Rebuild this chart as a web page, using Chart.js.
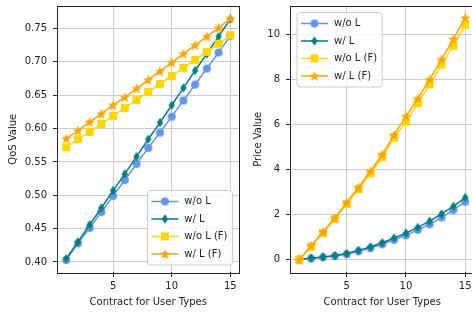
<!DOCTYPE html>
<html>
<head>
<meta charset="utf-8">
<script src="https://cdn.jsdelivr.net/npm/chart.js@4.4.1/dist/chart.umd.min.js"></script>
<style>
  html, body { margin: 0; padding: 0; background: #fff; overflow: hidden; }
  body { width: 472px; height: 316px; position: relative; }
  canvas { position: absolute; top: 0; }
  #qosChart { left: 0; }
  #priceChart { left: 245px; }
</style>
</head>
<body>
<canvas id="qosChart" width="245" height="316"></canvas>
<canvas id="priceChart" width="235" height="316"></canvas>
<script>
// data
const userTypes = [1, 2, 3, 4, 5, 6, 7, 8, 9, 10, 11, 12, 13, 14, 15];
const seriesNames = ['w/o L', 'w/ L', 'w/o L (F)', 'w/ L (F)'];

const qosWoL  = [0.403, 0.428, 0.451, 0.475, 0.499, 0.523, 0.547, 0.571, 0.594, 0.618, 0.642, 0.666, 0.690, 0.714, 0.739];
const qosWL   = [0.405, 0.430, 0.456, 0.481, 0.507, 0.532, 0.558, 0.584, 0.609, 0.635, 0.661, 0.687, 0.712, 0.738, 0.764];
const qosWoLF = [0.572, 0.584, 0.595, 0.607, 0.619, 0.631, 0.643, 0.655, 0.667, 0.679, 0.691, 0.703, 0.715, 0.727, 0.740];
const qosWLF  = [0.585, 0.597, 0.610, 0.622, 0.635, 0.647, 0.660, 0.673, 0.686, 0.699, 0.712, 0.725, 0.738, 0.751, 0.765];

const priceWoL  = [0, 0.05, 0.10, 0.16, 0.24, 0.37, 0.51, 0.68, 0.88, 1.08, 1.32, 1.57, 1.87, 2.21, 2.57];
const priceWL   = [0, 0.07, 0.12, 0.18, 0.27, 0.41, 0.56, 0.75, 0.96, 1.18, 1.43, 1.71, 2.03, 2.37, 2.76];
const priceWoLF = [0, 0.58, 1.18, 1.80, 2.47, 3.13, 3.83, 4.55, 5.42, 6.13, 6.95, 7.79, 8.67, 9.50, 10.44];
const priceWLF  = [0, 0.62, 1.23, 1.86, 2.54, 3.21, 3.93, 4.67, 5.54, 6.37, 7.16, 8.01, 8.90, 9.80, 10.75];

const xTicks = [5, 10, 15];
const qosTicks = [0.40, 0.45, 0.50, 0.55, 0.60, 0.65, 0.70, 0.75];
const priceTicks = [0, 2, 4, 6, 8, 10];

const colors = ['#6495ED', '#008080', '#FFD700', '#FFA500'];
const shapes = ['circle', 'diamond', 'square', 'star'];

Chart.defaults.font.family = '"DejaVu Sans", sans-serif';
Chart.defaults.font.size = 10;
Chart.defaults.color = '#222';

// matplotlib-like filled markers drawn once onto small canvases
function makeMarker(shape, color) {
    const c = document.createElement('canvas');
    c.width = 12; c.height = 12;
    const g = c.getContext('2d');
    g.fillStyle = color;
    g.beginPath();
    if (shape === 'circle') {
        g.arc(6, 6, 4, 0, Math.PI * 2);
    } else if (shape === 'diamond') {
        g.moveTo(6, 1.2); g.lineTo(9.2, 6); g.lineTo(6, 10.8); g.lineTo(2.8, 6);
    } else if (shape === 'square') {
        g.rect(2, 2, 8, 8);
    } else {
        for (let i = 0; i < 10; i++) {
            const r = i % 2 ? 2.3 : 5.6;
            const a = -Math.PI / 2 + i * Math.PI / 5;
            const px = 6 + r * Math.cos(a), py = 6.4 + r * Math.sin(a);
            if (i === 0) g.moveTo(px, py); else g.lineTo(px, py);
        }
    }
    g.closePath();
    g.fill();
    return c;
}
const markers = shapes.map((s, i) => makeMarker(s, colors[i]));

function buildDatasets(values) {
    return values.map((vals, i) => ({
        label: seriesNames[i],
        data: vals.map((v, j) => ({ x: userTypes[j], y: v })),
        borderColor: colors[i],
        backgroundColor: colors[i],
        borderWidth: 1.5,
        pointStyle: markers[i],
        pointRadius: 5,
        fill: false,
        tension: 0,
        order: 3 - i
    }));
}

// spines on all four sides + a matplotlib style legend box
const framePlugin = {
    id: 'frame',
    afterDatasetsDraw(chart, args, opts) {
        const { ctx, chartArea: a } = chart;
        ctx.save();
        ctx.strokeStyle = '#222';
        ctx.lineWidth = 1;
        ctx.strokeRect(Math.round(a.left) - 0.5, Math.round(a.top) - 0.5,
            Math.round(a.right - a.left) + 1, Math.round(a.bottom - a.top) + 1);

        const items = chart.data.datasets;
        ctx.font = '10px "DejaVu Sans", sans-serif';
        const textW = Math.max(...items.map(d => ctx.measureText(d.label).width));
        const rowH = 17.5;
        const w = 37 + textW + 5;
        const h = (items.length - 1) * rowH + 22;
        let x0, y0;
        if (opts.corner === 'br') {
            x0 = a.right - 6 - w; y0 = a.bottom - 7 - h;
        } else {
            x0 = a.left + 6; y0 = a.top + 6;
        }
        ctx.beginPath();
        ctx.roundRect(x0, y0, w, h, 3);
        ctx.fillStyle = 'rgba(255,255,255,0.8)';
        ctx.fill();
        ctx.strokeStyle = '#cccccc';
        ctx.stroke();
        items.forEach((d, i) => {
            const y = y0 + 11 + i * rowH;
            ctx.beginPath();
            ctx.strokeStyle = d.borderColor;
            ctx.lineWidth = 1.5;
            ctx.moveTo(x0 + 4, y);
            ctx.lineTo(x0 + 31, y);
            ctx.stroke();
            ctx.drawImage(d.pointStyle, x0 + 17.5 - 6, y - 6);
            ctx.fillStyle = '#222';
            ctx.textBaseline = 'middle';
            ctx.fillText(d.label, x0 + 37, y);
        });
        ctx.restore();
    }
};

function axisOptions(min, max, ticks, fmt, title, width, height, titlePad) {
    return {
        type: 'linear',
        min: min,
        max: max,
        afterBuildTicks: s => { s.ticks = ticks.map(v => ({ value: v })); },
        afterFit: s => {
            if (width) s.width = width;
            if (height) s.height = height;
            s.paddingTop = 0; s.paddingBottom = 0;
            s.paddingLeft = 0; s.paddingRight = 0;
        },
        grid: { color: '#cccccc', lineWidth: 1, tickLength: 5, tickColor: '#222', tickWidth: 1 },
        border: { display: false },
        ticks: { autoSkip: false, maxRotation: 0, padding: height ? 3 : 6, callback: fmt, color: '#222' },
        title: { display: true, text: title, color: '#222', padding: titlePad, font: { size: 10 } }
    };
}

function makeChart(id, values, yMin, yMax, yTicks, yFmt, yTitle, yWidth, rightPad, corner, titleLeft) {
    return new Chart(document.getElementById(id), {
        type: 'line',
        data: { datasets: buildDatasets(values) },
        options: {
            responsive: false,
            animation: false,
            devicePixelRatio: 1,
            layout: { padding: { top: 6, right: rightPad, left: 0, bottom: 0 } },
            scales: {
                x: axisOptions(0.3, 15.7, xTicks, v => v, 'Contract for User Types', null, 44, { top: 0, bottom: 8 }),
                y: axisOptions(yMin, yMax, yTicks, yFmt, yTitle, yWidth, null, { top: titleLeft, bottom: 0 })
            },
            plugins: {
                legend: { display: false },
                tooltip: { enabled: false },
                frame: { corner: corner }
            }
        },
        plugins: [framePlugin]
    });
}

makeChart('qosChart', [qosWoL, qosWL, qosWoLF, qosWLF], 0.385, 0.783, qosTicks,
    v => v.toFixed(2), 'QoS Value', 58, 5, 'br', 7);
makeChart('priceChart', [priceWoL, priceWL, priceWoLF, priceWLF], -0.55, 11.25, priceTicks,
    v => v, 'Price Value', 46, 6, 'tl', 7);
</script>
</body>
</html>
